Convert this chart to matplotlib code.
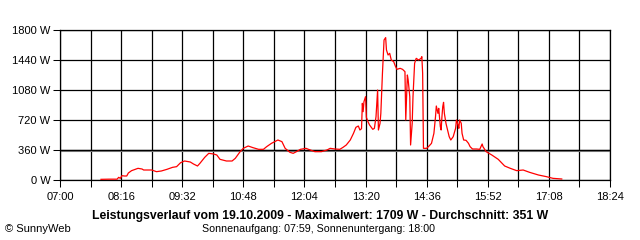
import matplotlib
matplotlib.use('Agg')
import matplotlib.pyplot as plt

# Leistungsverlauf 19.10.2009, Werte
zeiten = ['07:51', '08:01', '08:11', '08:13', '08:15', '08:17', '08:20', '08:23', '08:25', '08:29',
          '08:37', '08:42', '08:44', '08:54', '09:00', '09:06', '09:13', '09:20', '09:25', '09:30',
          '09:35', '09:42', '09:46', '09:51', '09:54', '10:00', '10:05', '10:11', '10:15', '10:19',
          '10:27', '10:34', '10:38', '10:44', '10:48', '10:54', '11:00', '11:07', '11:13', '11:17',
          '11:23', '11:31', '11:36', '11:40', '11:46', '11:50', '11:54', '11:59', '12:06', '12:09',
          '12:17', '12:25', '12:32', '12:36', '12:42', '12:48', '12:52', '12:56', '13:01', '13:05',
          '13:08', '13:11', '13:13', '13:15', '13:16', '13:17', '13:18', '13:20', '13:21', '13:23',
          '13:25', '13:29', '13:31', '13:33', '13:35', '13:36', '13:38', '13:39', '13:41', '13:43',
          '13:45', '13:46', '13:48', '13:50', '13:52', '13:55', '13:57', '13:59', '14:03', '14:06',
          '14:09', '14:10', '14:12', '14:13', '14:15', '14:16', '14:18', '14:19', '14:21', '14:23',
          '14:26', '14:29', '14:30', '14:31', '14:32', '14:36', '14:39', '14:42', '14:45', '14:47',
          '14:48', '14:50', '14:51', '14:53', '14:54', '14:55', '14:56', '14:57', '14:58', '15:00',
          '15:02', '15:04', '15:06', '15:09', '15:12', '15:13', '15:15', '15:16', '15:17', '15:19',
          '15:20', '15:22', '15:25', '15:28', '15:30', '15:33', '15:38', '15:42', '15:45', '15:46',
          '15:50', '15:57', '16:05', '16:13', '16:20', '16:28', '16:36', '16:44', '16:55', '17:05',
          '17:13', '17:24']
leistung = [8, 10, 10, 32, 20, 52, 48, 48, 84, 112,
            140, 132, 120, 120, 100, 108, 128, 152, 160, 208,
            228, 216, 192, 168, 200, 272, 320, 312, 300, 248,
            228, 228, 260, 340, 380, 408, 388, 368, 368, 400,
            440, 480, 460, 380, 332, 320, 340, 368, 380, 368,
            340, 340, 360, 380, 372, 368, 392, 420, 480, 560,
            632, 648, 600, 616, 920, 820, 940, 1000, 752, 700,
            660, 608, 620, 760, 1080, 600, 680, 800, 1280, 1680,
            1709, 1560, 1500, 1520, 1440, 1420, 1368, 1328, 1340, 1328,
            1300, 720, 1260, 1200, 1000, 420, 680, 1000, 1400, 1460,
            1440, 1460, 1480, 1280, 380, 380, 408, 440, 560, 760,
            888, 800, 860, 640, 600, 760, 880, 932, 800, 680,
            600, 520, 480, 520, 620, 720, 660, 620, 720, 680,
            560, 480, 476, 440, 400, 372, 372, 368, 432, 400,
            340, 300, 248, 168, 140, 112, 120, 92, 60, 40,
            20, 12]
durchschnitt = 351
y_ticks = [0, 360, 720, 1080, 1440, 1800]
x_labels = ['07:00', '08:16', '09:32', '10:48', '12:04', '13:20', '14:36', '15:52', '17:08', '18:24']


def minuten(s):
    h, m = s.split(':')
    return int(h) * 60 + int(m)


x = [minuten(z) for z in zeiten]
x_major = [minuten(z) for z in x_labels]
x_minor = [a + 38 for a in x_major[:-1]]

plt.rcParams['font.family'] = ['Liberation Sans', 'DejaVu Sans']
fig = plt.figure(figsize=(6.4, 2.4), dpi=100)
ax = fig.add_axes([60 / 640, 60 / 240, 550 / 640, 150 / 240])

ax.set_xlim(x_major[0], x_major[-1])
ax.set_ylim(0, 1800)
ax.set_xticks(x_major)
ax.set_xticklabels(x_labels, fontsize=8)
ax.set_xticks(x_minor, minor=True)
ax.set_yticks(y_ticks)
ax.set_yticklabels([str(v) + ' W' for v in y_ticks], fontsize=8)
ax.tick_params(which='both', direction='out', length=5, width=0.75, color='black', pad=2)
ax.tick_params(axis='x', which='both', pad=4)
ax.grid(True, which='both', color='black', linewidth=0.9, zorder=1)
ax.set_axisbelow(True)
for s in ax.spines.values():
    s.set_linewidth(0.9)

# Durchschnitt grau, knapp unter der 360-W-Linie
ax.axhline(durchschnitt, color='#808080', linewidth=1.5, zorder=2)
ax.axhline(360, color='black', linewidth=0.9, zorder=2.5)
ax.plot(x, leistung, color='red', linewidth=0.9, zorder=3)

fig.text(320 / 640, 1 - 216 / 240, 'Leistungsverlauf vom 19.10.2009 - Maximalwert: 1709 W - Durchschnitt: 351 W',
         ha='center', va='center', fontsize=8.8, fontweight='bold')
fig.text(319 / 640, 1 - 229 / 240, 'Sonnenaufgang: 07:59, Sonnenuntergang: 18:00',
         ha='center', va='center', fontsize=7.7)
fig.text(5 / 640, 1 - 229 / 240, '© SunnyWeb', ha='left', va='center', fontsize=8)

fig.savefig('out.png', dpi=100)
